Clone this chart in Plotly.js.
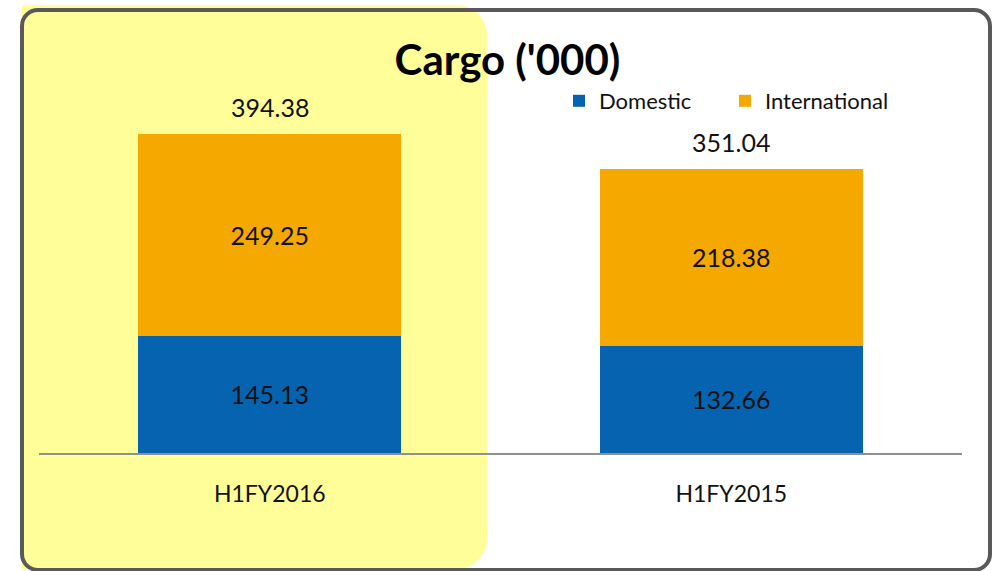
<!DOCTYPE html>
<html>
<head>
<meta charset="utf-8">
<script src="https://cdn.plot.ly/plotly-3.0.1.min.js"></script>
<style>
  html, body { margin: 0; padding: 0; background: #ffffff; }
  #wrap { position: relative; width: 996px; height: 571px; overflow: hidden; background: #ffffff; }
  #hl { position: absolute; left: 22px; top: 5px; width: 465px; height: 564px;
        background: #FFFE99; border-radius: 0 30px 30px 0; }
  #frame { position: absolute; left: 20px; top: 8px; width: 972px; height: 564px;
           box-sizing: border-box; border: 4px solid #595959; border-radius: 18px; }
  #chart { position: absolute; left: 0; top: 0; width: 996px; height: 571px; }
</style>
</head>
<body>
<div id="wrap">
  <div id="hl"></div>
  <div id="frame"></div>
  <div id="chart"></div>
</div>
<script>
// ---- data ----
const categories = ["H1FY2016", "H1FY2015"];
const domestic = [145.13, 132.66];
const international = [249.25, 218.38];
const totals = [394.38, 351.04];
const seriesNames = ["Domestic", "International"];
const chartTitle = "Cargo ('000)";

const FONT = "Lato, 'Open Sans', sans-serif";

const traces = [
  {
    type: "bar", name: seriesNames[0], x: categories, y: domestic,
    marker: { color: "#0563B0" }, width: 0.57,
    text: domestic.map(v => v.toFixed(2)), textposition: "inside",
    insidetextanchor: "middle", textangle: 0,
    textfont: { family: FONT, size: 25, color: "#111111" },
    hoverinfo: "none"
  },
  {
    type: "bar", name: seriesNames[1], x: categories, y: international,
    marker: { color: "#F5A800" }, width: 0.57,
    text: international.map(v => v.toFixed(2)), textposition: "inside",
    insidetextanchor: "middle", textangle: 0,
    textfont: { family: FONT, size: 25, color: "#111111" },
    hoverinfo: "none"
  }
];

const annotations = categories.map((c, i) => ({
  x: c, y: totals[i], xref: "x", yref: "y",
  text: totals[i].toFixed(2), showarrow: false,
  yanchor: "bottom", yshift: 10,
  font: { family: FONT, size: 25, color: "#111111" }
}));

const layout = {
  width: 996, height: 571,
  margin: { l: 39, r: 34, t: 89, b: 118, pad: 0 },
  paper_bgcolor: "rgba(0,0,0,0)", plot_bgcolor: "rgba(0,0,0,0)",
  barmode: "stack",
  title: {
    text: "<b>" + chartTitle + "</b>",
    x: 0.5095, xref: "container", xanchor: "center",
    y: 1 - 60 / 571, yref: "container", yanchor: "middle",
    font: { family: FONT, size: 42, color: "#000000" }
  },
  xaxis: {
    type: "category", range: [-0.5, 1.5],
    showline: true, linecolor: "#8F8F8F", linewidth: 2,
    ticks: "", showgrid: false, zeroline: false,
    tickfont: { family: FONT, size: 23, color: "#111111" },
    ticklabelstandoff: 19
  },
  yaxis: {
    range: [0, 450], visible: false, showgrid: false, zeroline: false
  },
  showlegend: true,
  legend: {
    orientation: "h", traceorder: "normal",
    x: (559 - 39) / 923, xanchor: "left",
    y: 1 - (101 - 89) / 364, yanchor: "middle",
    entrywidth: 121, entrywidthmode: "pixels",
    bgcolor: "rgba(0,0,0,0)",
    font: { family: FONT, size: 22, color: "#111111" }
  },
  annotations: annotations
};

Plotly.newPlot("chart", traces, layout, { displayModeBar: false, staticPlot: true });
</script>
</body>
</html>
